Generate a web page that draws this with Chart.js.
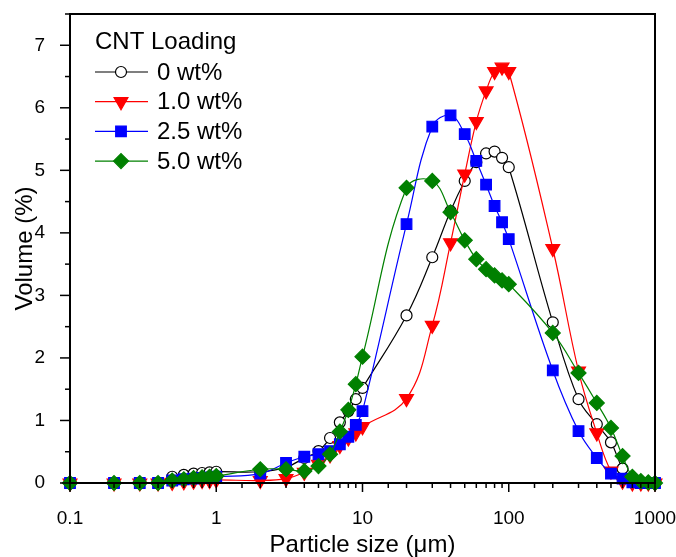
<!DOCTYPE html>
<html>
<head>
<meta charset="utf-8">
<script src="https://cdn.jsdelivr.net/npm/chart.js@4"></script>
<style>
  html, body { margin: 0; padding: 0; background: #fff; }
  #wrap { width: 676px; height: 557px; }
</style>
</head>
<body>
<div id="wrap"><canvas id="psd"></canvas></div>
<script>
// particle size classes (um)
const sizes = [0.1, 0.2, 0.3, 0.4, 0.5, 0.6, 0.7, 0.8, 0.9, 1,
  2, 3, 4, 5, 6, 7, 8, 9, 10,
  20, 30, 40, 50, 60, 70, 80, 90, 100,
  200, 300, 400, 500, 600, 700, 800, 900, 1000];

// volume (%) per loading
const cnt0 = [0, 0, 0, 0, 0.1, 0.13, 0.15, 0.16, 0.17, 0.18,
  0.18, 0.25, 0.4, 0.51, 0.72, 0.97, 1.15, 1.34, 1.52,
  2.68, 3.61, 4.35, 4.83, 5.13, 5.27, 5.3, 5.2, 5.05,
  2.57, 1.34, 0.94, 0.65, 0.23, 0.03, 0, 0, 0];
const cnt10 = [0, 0, 0, 0, 0.01, 0.02, 0.03, 0.04, 0.04, 0.05,
  0.04, 0.07, 0.17, 0.3, 0.45, 0.6, 0.72, 0.8, 0.9,
  1.35, 2.52, 3.84, 4.94, 5.78, 6.27, 6.58, 6.65, 6.58,
  3.75, 1.79, 0.8, 0.19, 0.03, 0, 0, 0, 0];
const cnt25 = [0, 0, 0, 0, 0.04, 0.06, 0.07, 0.08, 0.09, 0.1,
  0.15, 0.32, 0.42, 0.46, 0.51, 0.62, 0.74, 0.93, 1.15,
  4.14, 5.7, 5.88, 5.58, 5.15, 4.77, 4.43, 4.17, 3.9,
  1.8, 0.83, 0.4, 0.15, 0.07, 0.01, 0, 0, 0];
const cnt50 = [0, 0, 0, 0, 0.04, 0.06, 0.08, 0.09, 0.1, 0.11,
  0.22, 0.22, 0.19, 0.27, 0.46, 0.82, 1.17, 1.58, 2.02,
  4.72, 4.83, 4.33, 3.88, 3.58, 3.42, 3.32, 3.24, 3.18,
  2.4, 1.76, 1.28, 0.88, 0.43, 0.1, 0.03, 0.01, 0];

const seriesLabels = ['0 wt%', '1.0 wt%', '2.5 wt%', '5.0 wt%'];
const legendTitle = 'CNT Loading';
const xTickLabels = ['0.1', '1', '10', '100', '1000'];

const FONT = '"Liberation Sans", Arial, sans-serif';

function pts(vals) {
  return sizes.map((s, i) => ({ x: s, y: vals[i] }));
}

function series(label, vals, color, style, radius, fill, order) {
  return {
    label: label,
    data: pts(vals),
    borderColor: color,
    borderWidth: 1.2,
    pointStyle: style,
    pointRadius: radius,
    pointHoverRadius: radius,
    pointBackgroundColor: fill,
    pointBorderColor: color,
    pointBorderWidth: 1.2,
    pointRotation: style === 'triangle' ? 180 : 0,
    tension: 0.4,
    clip: false,
    order: order
  };
}

// keep the plot box where the reference has it
function noOverhang(scale) {
  scale.paddingTop = 0;
  scale.paddingBottom = 0;
  scale.paddingLeft = 0;
  scale.paddingRight = 0;
}

// outward ticks, minor ticks and the closed frame
const frameTicks = {
  id: 'frameTicks',
  afterDraw(chart) {
    const ctx = chart.ctx;
    const a = chart.chartArea;
    const xs = chart.scales.x, ys = chart.scales.y;
    ctx.save();
    ctx.strokeStyle = '#000';
    ctx.lineWidth = 1.5;
    xs.ticks.forEach(t => {
      const lg = Math.log10(t.value);
      const major = Math.abs(lg - Math.round(lg)) < 1e-6;
      const px = xs.getPixelForValue(t.value);
      ctx.beginPath();
      ctx.moveTo(px, a.bottom);
      ctx.lineTo(px, a.bottom + (major ? 9 : 5));
      ctx.stroke();
    });
    ys.ticks.forEach(t => {
      const major = Number.isInteger(t.value);
      const py = ys.getPixelForValue(t.value);
      ctx.beginPath();
      ctx.moveTo(a.left, py);
      ctx.lineTo(a.left - (major ? 10 : 5), py);
      ctx.stroke();
    });
    ctx.lineWidth = 2;
    ctx.strokeRect(a.left, a.top, a.right - a.left, a.bottom - a.top);
    ctx.restore();
  }
};

// Origin-style legend inside the plot
const insideLegend = {
  id: 'insideLegend',
  afterDraw(chart) {
    const ctx = chart.ctx;
    ctx.save();
    ctx.fillStyle = '#000';
    ctx.font = '24px ' + FONT;
    ctx.textBaseline = 'middle';
    ctx.fillText(legendTitle, 95, 42);
    chart.data.datasets.forEach((ds, i) => {
      const y = 72 + i * 29.7;
      ctx.strokeStyle = ds.borderColor;
      ctx.lineWidth = 1.2;
      ctx.beginPath();
      ctx.moveTo(95, y);
      ctx.lineTo(148, y);
      ctx.stroke();
      ctx.fillStyle = ds.pointBackgroundColor;
      Chart.helpers.drawPoint(ctx, {
        pointStyle: ds.pointStyle,
        radius: ds.pointRadius,
        rotation: ds.pointRotation,
        borderWidth: 1.2
      }, 121, y);
      ctx.fillStyle = '#000';
      ctx.fillText(ds.label, 157, y + 1);
    });
    ctx.restore();
  }
};

const ctx = document.getElementById('psd').getContext('2d');
new Chart(ctx, {
  type: 'line',
  data: {
    datasets: [
      series(seriesLabels[0], cnt0, '#000000', 'circle', 5.5, '#ffffff', 4),
      series(seriesLabels[1], cnt10, '#ff0000', 'triangle', 8, '#ff0000', 3),
      series(seriesLabels[2], cnt25, '#0000ff', 'rect', 7.5, '#0000ff', 2),
      series(seriesLabels[3], cnt50, '#008000', 'rectRot', 7.5, '#008000', 1)
    ]
  },
  options: {
    responsive: true,
    maintainAspectRatio: false,
    animation: false,
    events: [],
    layout: { padding: { top: 14, right: 21, left: 0, bottom: 0 } },
    plugins: {
      legend: { display: false },
      tooltip: { enabled: false }
    },
    scales: {
      x: {
        type: 'logarithmic',
        min: 0.1,
        max: 1000,
        afterFit(scale) { scale.height = 74; noOverhang(scale); },
        grid: { display: false },
        border: { display: true, color: '#000', width: 2 },
        ticks: {
          autoSkip: false,
          maxRotation: 0,
          padding: 16,
          color: '#000',
          font: { family: FONT, size: 19 },
          callback: (v) => {
            const s = String(v);
            return xTickLabels.includes(s) ? s : '';
          }
        },
        title: {
          display: true,
          text: 'Particle size (μm)',
          color: '#000',
          font: { family: FONT, size: 24 },
          padding: { top: 0, bottom: -3 }
        }
      },
      y: {
        min: 0,
        max: 7.5,
        afterFit(scale) { scale.width = 70; noOverhang(scale); },
        grid: { display: false },
        border: { display: true, color: '#000', width: 2 },
        ticks: {
          stepSize: 0.5,
          padding: 17,
          color: '#000',
          font: { family: FONT, size: 19 },
          callback: (v) => Number.isInteger(v) ? String(v) : ''
        },
        title: {
          display: true,
          text: 'Volume (%)',
          color: '#000',
          font: { family: FONT, size: 24 },
          padding: { top: 11, bottom: 0 }
        }
      }
    }
  },
  plugins: [frameTicks, insideLegend]
});
</script>
</body>
</html>
